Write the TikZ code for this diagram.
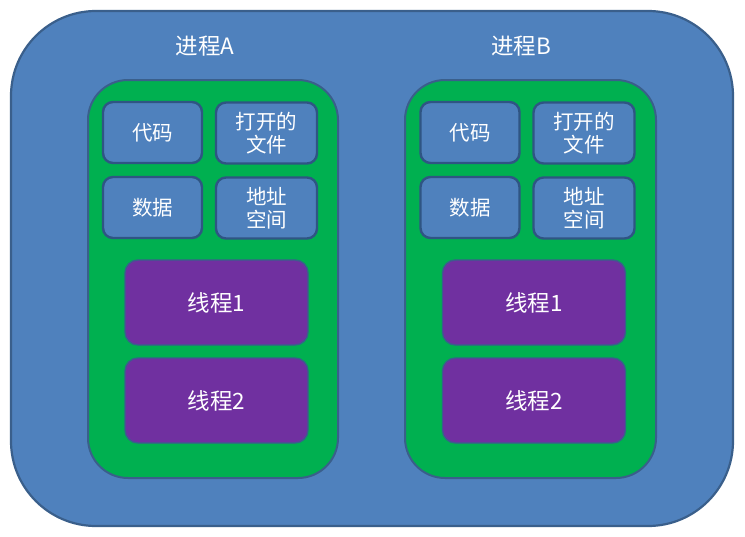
\documentclass[tikz,border=0pt]{standalone}
\usepackage{fontspec}
\newfontfamily\cjk{Noto Sans CJK SC}
\definecolor{outerblue}{HTML}{4F81BD}
\definecolor{edgeblue}{HTML}{3A5F8B}
\definecolor{boxedge}{HTML}{2F5583}
\definecolor{procgreen}{HTML}{00B050}
\definecolor{threadpurple}{HTML}{7030A0}
\tikzset{
  outerbox/.style={draw=edgeblue, line width=2.2pt, fill=outerblue, rounded corners=85pt, minimum width=722pt, minimum height=515pt, inner sep=0pt},
  procbox/.style={draw=edgeblue, line width=2pt, fill=procgreen, rounded corners=40pt, minimum height=398pt, inner sep=0pt},
  resbox/.style={draw=boxedge, line width=2.4pt, fill=outerblue, rounded corners=10pt, minimum height=61pt, inner sep=0pt, text=white, font=\cjk\fontsize{20.5pt}{22.5pt}\selectfont, align=center},
  threadbox/.style={draw=edgeblue, line width=1.4pt, fill=threadpurple, rounded corners=13pt, minimum width=183pt, minimum height=85pt, inner sep=0pt, text=white, font=\cjk\fontsize{22.5pt}{24pt}\selectfont},
  titletext/.style={text=white, font=\cjk\fontsize{22.5pt}{24pt}\selectfont, inner sep=0pt}
}
\begin{document}
\begin{tikzpicture}[x=1pt,y=-1pt]
\useasboundingbox (0,0) rectangle (745,536);
\node[outerbox] (outer) at (372,268.5) {};
% Process A
\node[titletext] (titleA) at (205,46) {进程A};
\node[procbox, minimum width=250pt] (procA) at (213,279) {};
\node[resbox, minimum width=99pt] (codeA) at (152.5,132.5) {代码};
\node[resbox, minimum width=101pt] (fileA) at (266.5,133) {打开的\\文件};
\node[resbox, minimum width=99pt] (dataA) at (152.5,207.5) {数据};
\node[resbox, minimum width=101pt] (addrA) at (266.5,208) {地址\\空间};
\node[threadbox] (t1A) at (216.5,302.5) {线程1};
\node[threadbox] (t2A) at (216.5,400.5) {线程2};
% Process B
\node[titletext] (titleB) at (521,46) {进程B};
\node[procbox, minimum width=251pt] (procB) at (530.5,279) {};
\node[resbox, minimum width=99pt] (codeB) at (470,132.5) {代码};
\node[resbox, minimum width=101pt] (fileB) at (584,133) {打开的\\文件};
\node[resbox, minimum width=99pt] (dataB) at (470,207.5) {数据};
\node[resbox, minimum width=101pt] (addrB) at (584,208) {地址\\空间};
\node[threadbox] (t1B) at (534,302.5) {线程1};
\node[threadbox] (t2B) at (534,400.5) {线程2};
\end{tikzpicture}
\end{document}
